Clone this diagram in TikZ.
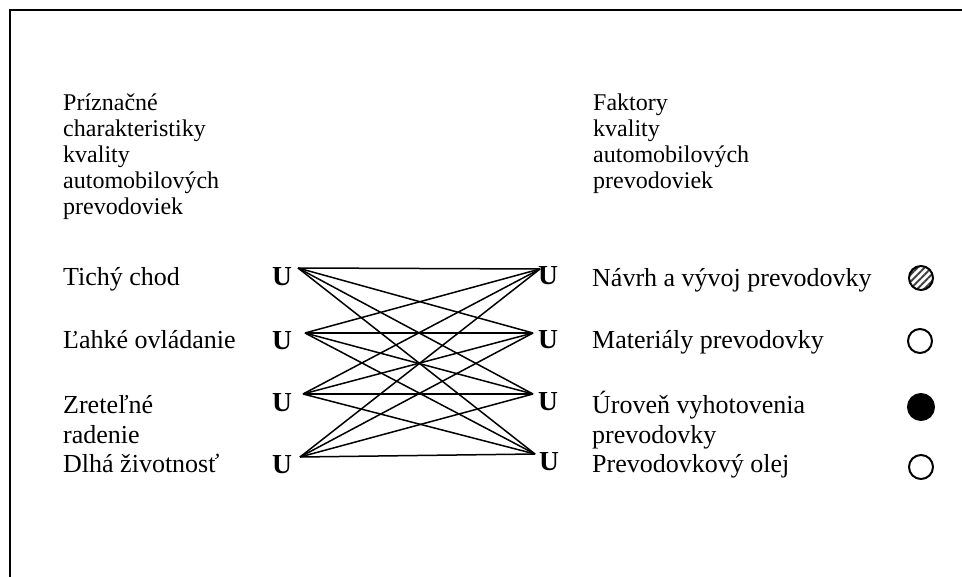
\documentclass[tikz,border=0pt]{standalone}
\usepackage{fontspec}
\setmainfont{Liberation Serif}
\usetikzlibrary{patterns.meta}
\begin{document}
\begin{tikzpicture}[x=1pt,y=-1pt,
  head/.style={anchor=base west, inner sep=0pt, align=left,
    font=\fontsize{24}{26}\selectfont},
  item/.style={anchor=base west, inner sep=0pt, align=left,
    font=\fontsize{26}{30}\selectfont},
  ulet/.style={anchor=base west, inner sep=0pt,
    font=\fontsize{27.5}{30}\selectfont\bfseries},
  link/.style={line width=1.5pt},
  frameline/.style={line width=2pt},
  dotmark/.style={circle, draw, line width=2pt, inner sep=0pt, minimum size=24pt},
]
\useasboundingbox (0,0) rectangle (962,577);

% frame
\draw[frameline] (9.5,577) -- (9.5,10) -- (962,10);

% column headings (anchored at the baseline of their last line)
\node[head] (hl) at (63,215) {Príznačné\\charakteristiky\\kvality\\automobilových\\prevodoviek};
\node[head] (hr) at (593,189) {Faktory\\kvality\\automobilových\\prevodoviek};

% characteristics
\node[item] (l1) at (63,286) {Tichý chod};
\node[item] (l2) at (63,349) {Ľahké ovládanie};
\node[item] (l3) at (63,443) {Zreteľné\\radenie};
\node[item] (l4) at (63,472) {Dlhá životnosť};

% factors
\node[item] (r1) at (592,287) {Návrh a vývoj prevodovky};
\node[item] (r2) at (592,349) {Materiály prevodovky};
\node[item] (r3) at (592,443) {Úroveň vyhotovenia\\prevodovky};
\node[item] (r4) at (592,472) {Prevodovkový olej};

% U markers
\node[ulet] (ul1) at (272,286) {U};
\node[ulet] (ul2) at (272,350) {U};
\node[ulet] (ul3) at (272,412) {U};
\node[ulet] (ul4) at (272,473) {U};
\node[ulet] (ur1) at (538,285) {U};
\node[ulet] (ur2) at (538,349) {U};
\node[ulet] (ur3) at (538,411) {U};
\node[ulet] (ur4) at (539,471) {U};

% connector ends
\coordinate (a1) at (298,268);
\coordinate (a2) at (305,333);
\coordinate (a3) at (303,394);
\coordinate (a4) at (300,457);
\coordinate (b1) at (540,269);
\coordinate (b2) at (533,333);
\coordinate (b3) at (533,394);
\coordinate (b4) at (535,454);

% every characteristic linked with every factor
\foreach \i in {1,2,3,4}{
  \foreach \j in {1,2,3,4}{
    \draw[link] (a\i) -- (b\j);
  }
}

% rating marks
\node[dotmark, pattern={Lines[angle=45,distance=5pt,line width=2pt]}, pattern color=black!75] (m1) at (921,278) {};
\node[dotmark] (m2) at (920,341) {};
\node[dotmark, fill=black, minimum size=26pt] (m3) at (921,407) {};
\node[dotmark] (m4) at (921,467) {};
\end{tikzpicture}
\end{document}
